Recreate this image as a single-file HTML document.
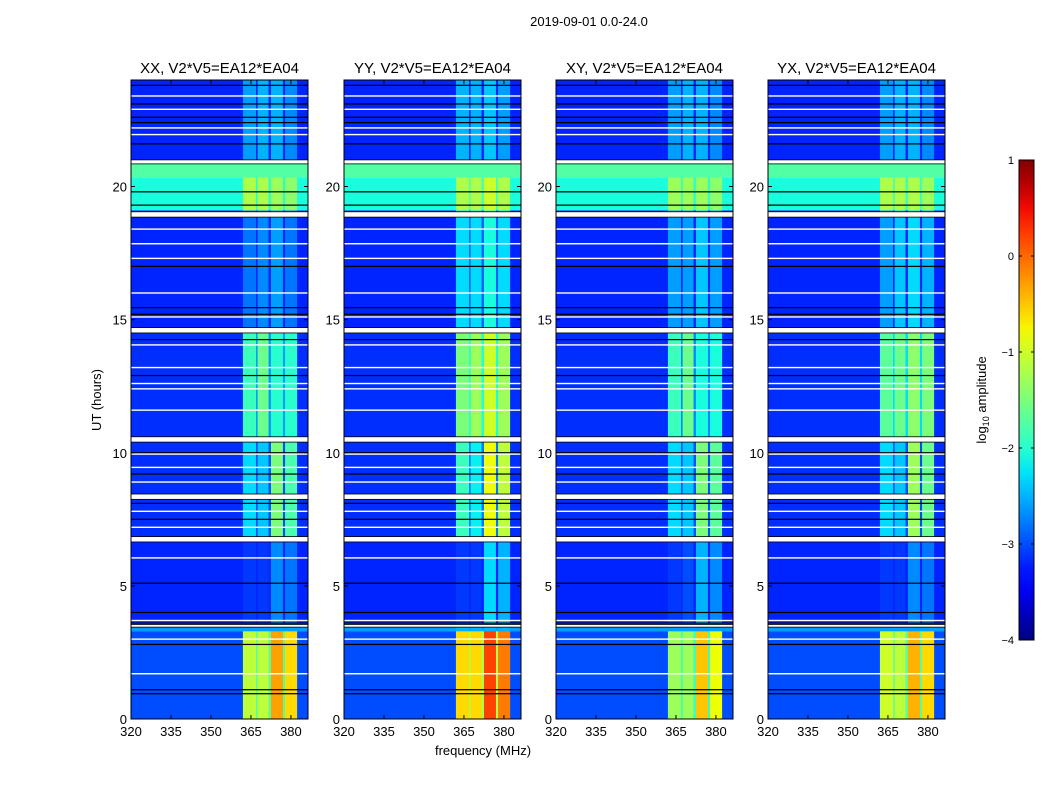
<!DOCTYPE html>
<html><head><meta charset="utf-8">
<style>
body{margin:0;background:#fff;}
svg text{font-family:"Liberation Sans",sans-serif;fill:#000;}
</style></head>
<body>
<svg id="fig" width="1050" height="800" viewBox="0 0 1050 800" xmlns="http://www.w3.org/2000/svg">
<rect x="0" y="0" width="1050" height="800" fill="#fff"/>
<text x="589" y="26" font-size="13" text-anchor="middle">2019-09-01 0.0-24.0</text>
<text x="483" y="755" font-size="13" text-anchor="middle">frequency (MHz)</text>
<text transform="translate(101,400) rotate(-90)" font-size="13" text-anchor="middle">UT (hours)</text>
<g id="panels"></g>
<g id="cbar"></g>
</svg>
<script>
// ---- data ----
const panelTitles = ["XX, V2*V5=EA12*EA04","YY, V2*V5=EA12*EA04","XY, V2*V5=EA12*EA04","YX, V2*V5=EA12*EA04"];
const bandEdges = [0,3.3,3.6,6.8,10.6,14.7,19.1,20.35,20.85,24];
const bandBg = [-3.0,-2.6,-3.2,-3.15,-3.15,-3.2,-2.1,-1.75,-3.2];
const rfiFreqStart = [362,367.5,372.5,377.8];
const rfiFreqEnd = [366.9,371.6,377,382.3];
const rfiP1 = [[-1.1,-1.1,-0.3,-0.6],[-2.6,-2.6,-2.6,-2.6],[-3.1,-3.1,-2.7,-2.8],[-2.3,-2.4,-1.5,-1.8],[-1.9,-1.6,-2.0,-2.0],[-2.8,-2.7,-2.6,-2.8],[-1.2,-1.2,-1.3,-1.4],[-1.75,-1.75,-1.75,-1.75],[-2.6,-2.5,-2.5,-2.7]];
const rfiP2 = [[-0.6,-0.6,0.2,-0.1],[-2.5,-2.5,-2.5,-2.5],[-3.1,-3.1,-2.3,-2.5],[-1.9,-2.2,-0.8,-1.1],[-1.5,-1.3,-1.0,-1.3],[-2.3,-2.3,-2.1,-2.3],[-1.2,-1.2,-1.0,-1.2],[-1.75,-1.75,-1.75,-1.75],[-2.5,-2.5,-2.4,-2.6]];
const rfiP3 = [[-1.3,-1.3,-0.5,-0.8],[-2.6,-2.6,-2.6,-2.6],[-3.1,-3.0,-2.5,-2.7],[-2.3,-2.4,-1.5,-1.7],[-1.9,-1.6,-2.1,-2.1],[-2.6,-2.6,-2.4,-2.6],[-1.3,-1.3,-1.3,-1.4],[-1.75,-1.75,-1.75,-1.75],[-2.6,-2.5,-2.5,-2.7]];
const rfiP4 = [[-1.0,-1.1,-0.4,-0.6],[-2.6,-2.6,-2.6,-2.6],[-3.1,-3.1,-2.7,-2.8],[-2.3,-2.4,-1.3,-1.6],[-1.7,-1.6,-1.4,-1.5],[-2.6,-2.4,-2.3,-2.5],[-1.2,-1.2,-1.2,-1.3],[-1.75,-1.75,-1.75,-1.75],[-2.6,-2.5,-2.5,-2.7]];
const gapStart = [20.85,18.85,14.5,10.4,6.65,8.25,3.45];
const gapEnd = [21.0,19.05,14.7,10.6,6.85,8.45,3.55];
const whiteLines = [23.4,22.9,22.2,21.95,18.4,17.85,17.3,16.0,15.1,14.05,13.2,12.6,12.4,11.6,9.95,9.45,8.9,7.8,7.2,6.05,3.7,3.0,1.7];
const blackLines = [23.8,23.1,22.6,22.4,21.6,19.3,19.8,17.0,15.45,15.2,14.25,12.9,10.0,9.2,8.1,7.5,5.1,4.0,3.6,2.8,1.1,0.95];
const xTicks = [320,335,350,365,380];
const yTicks = [0,5,10,15,20];
const cbTicks = [1,0,-1,-2,-3,-4];
// ---- layout ----
const panelX = [131,344,556,768];
const panelW = 177, plotTop = 80, plotBottom = 719;
const fMin = 320, fMax = 386.4, hMax = 24, vMin = -4, vMax = 1;
const rfiAll = [rfiP1,rfiP2,rfiP3,rfiP4];
const NS = "http://www.w3.org/2000/svg";
function jet(v){
  let t=(v-vMin)/(vMax-vMin); t=Math.max(0,Math.min(1,t));
  function pw(pts){for(let i=1;i<pts.length;i++){if(t<=pts[i][0]){const a=pts[i-1],b=pts[i];return a[1]+(b[1]-a[1])*(t-a[0])/(b[0]-a[0]);}}return pts[pts.length-1][1];}
  const r=pw([[0,0],[0.35,0],[0.66,1],[0.89,1],[1,0.5]]);
  const g=pw([[0,0],[0.125,0],[0.375,1],[0.64,1],[0.91,0],[1,0]]);
  const b=pw([[0,0.5],[0.11,1],[0.34,1],[0.65,0],[1,0]]);
  return `rgb(${Math.round(r*255)},${Math.round(g*255)},${Math.round(b*255)})`;
}
function mk(tag,attrs,parent){const e=document.createElementNS(NS,tag);for(const k in attrs)e.setAttribute(k,attrs[k]);parent.appendChild(e);return e;}
const panelsG=document.getElementById('panels');
for(let p=0;p<4;p++){
  const x0=panelX[p];
  const xs=f=>x0+(f-fMin)*panelW/(fMax-fMin);
  const ys=h=>plotBottom-h*(plotBottom-plotTop)/hMax;
  const g=mk('g',{},panelsG);
  
  
  for(let b=0;b<bandBg.length;b++){
    const y1=ys(bandEdges[b+1]),y0=ys(bandEdges[b]);
    const r=mk('rect',{x:x0,y:y1,width:panelW,height:y0-y1,fill:jet(bandBg[b])},g);
    
    
    const cols=rfiAll[p][b];
    const gapV=Math.max(bandBg[b],Math.min(...cols)-0.6);
    const env=mk('rect',{x:xs(rfiFreqStart[0]),y:y1,width:xs(rfiFreqEnd[3])-xs(rfiFreqStart[0]),height:y0-y1,fill:jet(gapV)},g);
    
    
    for(let c=0;c<4;c++){
      const cell=mk('rect',{x:xs(rfiFreqStart[c]),y:y1,width:xs(rfiFreqEnd[c])-xs(rfiFreqStart[c]),height:y0-y1,fill:jet(cols[c])},g);
      
      
    }
  }
  for(let i=0;i<blackLines.length;i++){
    const l=mk('rect',{x:x0,y:ys(blackLines[i])-0.6,width:panelW,height:1.2,fill:'#000'},g);
    
    
  }
  for(let i=0;i<whiteLines.length;i++){
    const l=mk('rect',{x:x0,y:ys(whiteLines[i])-0.7,width:panelW,height:1.4,fill:'#fff'},g);
    
    
  }
  for(let i=0;i<gapStart.length;i++){
    const y1=ys(gapEnd[i]),y0=ys(gapStart[i]);
    const l=mk('rect',{x:x0,y:y1,width:panelW,height:y0-y1,fill:'#fff',stroke:'#000','stroke-width':0.8},g);
    
    
  }
  const fr=mk('rect',{x:x0,y:plotTop,width:panelW,height:plotBottom-plotTop,fill:'none',stroke:'#000','stroke-width':1},g);
  
  
  const t=mk('text',{x:x0+panelW/2,y:plotTop-7,'font-size':15,'text-anchor':'middle'},g);
  t.textContent=panelTitles[p];
  
  
  xTicks.forEach(f=>{
    const x=xs(f);
    mk('line',{x1:x,y1:plotBottom,x2:x,y2:plotBottom-4,stroke:'#000'},g);
    mk('line',{x1:x,y1:plotTop,x2:x,y2:plotTop+4,stroke:'#000'},g);
    const tl=mk('text',{x:x,y:plotBottom+17,'font-size':13,'text-anchor':'middle'},g);
    tl.textContent=f;
    
    
  });
  yTicks.forEach(h=>{
    const y=ys(h);
    mk('line',{x1:x0,y1:y,x2:x0+4,y2:y,stroke:'#000'},g);
    mk('line',{x1:x0+panelW,y1:y,x2:x0+panelW-4,y2:y,stroke:'#000'},g);
    const tl=mk('text',{x:x0-4,y:y+5,'font-size':13,'text-anchor':'end'},g);
    tl.textContent=h;
    
    
  });
}
// colorbar
const cb=document.getElementById('cbar');


const cbX=1019,cbW=15,cbTop=160,cbBot=640;
const defs=mk('defs',{},cb);
const lg=mk('linearGradient',{id:'jetg',x1:0,y1:1,x2:0,y2:0},defs);
for(let i=0;i<=20;i++){mk('stop',{offset:(i/20),'stop-color':jet(vMin+(vMax-vMin)*i/20)},lg);}
mk('rect',{x:cbX,y:cbTop,width:cbW,height:cbBot-cbTop,fill:'url(#jetg)',stroke:'#000'},cb);
const cys=v=>cbBot-(v-vMin)*(cbBot-cbTop)/(vMax-vMin);
cbTicks.forEach(v=>{
  const y=cys(v);
  mk('line',{x1:cbX,y1:y,x2:cbX+3,y2:y,stroke:'#000'},cb);
  mk('line',{x1:cbX+cbW,y1:y,x2:cbX+cbW-3,y2:y,stroke:'#000'},cb);
  const tl=mk('text',{x:cbX-5,y:y+4,'font-size':11,'text-anchor':'end'},cb);
  tl.textContent=v<0?'\u2212'+(-v):String(v);
  
  
});
const cl=mk('text',{transform:'translate(986,400) rotate(-90)','font-size':13,'text-anchor':'middle'},cb);
cl.textContent='log';
const s1=mk('tspan',{'font-size':9,dy:3},cl); s1.textContent='10';
const s2=mk('tspan',{dy:-3},cl); s2.textContent=' amplitude';


</script>
</body></html>
